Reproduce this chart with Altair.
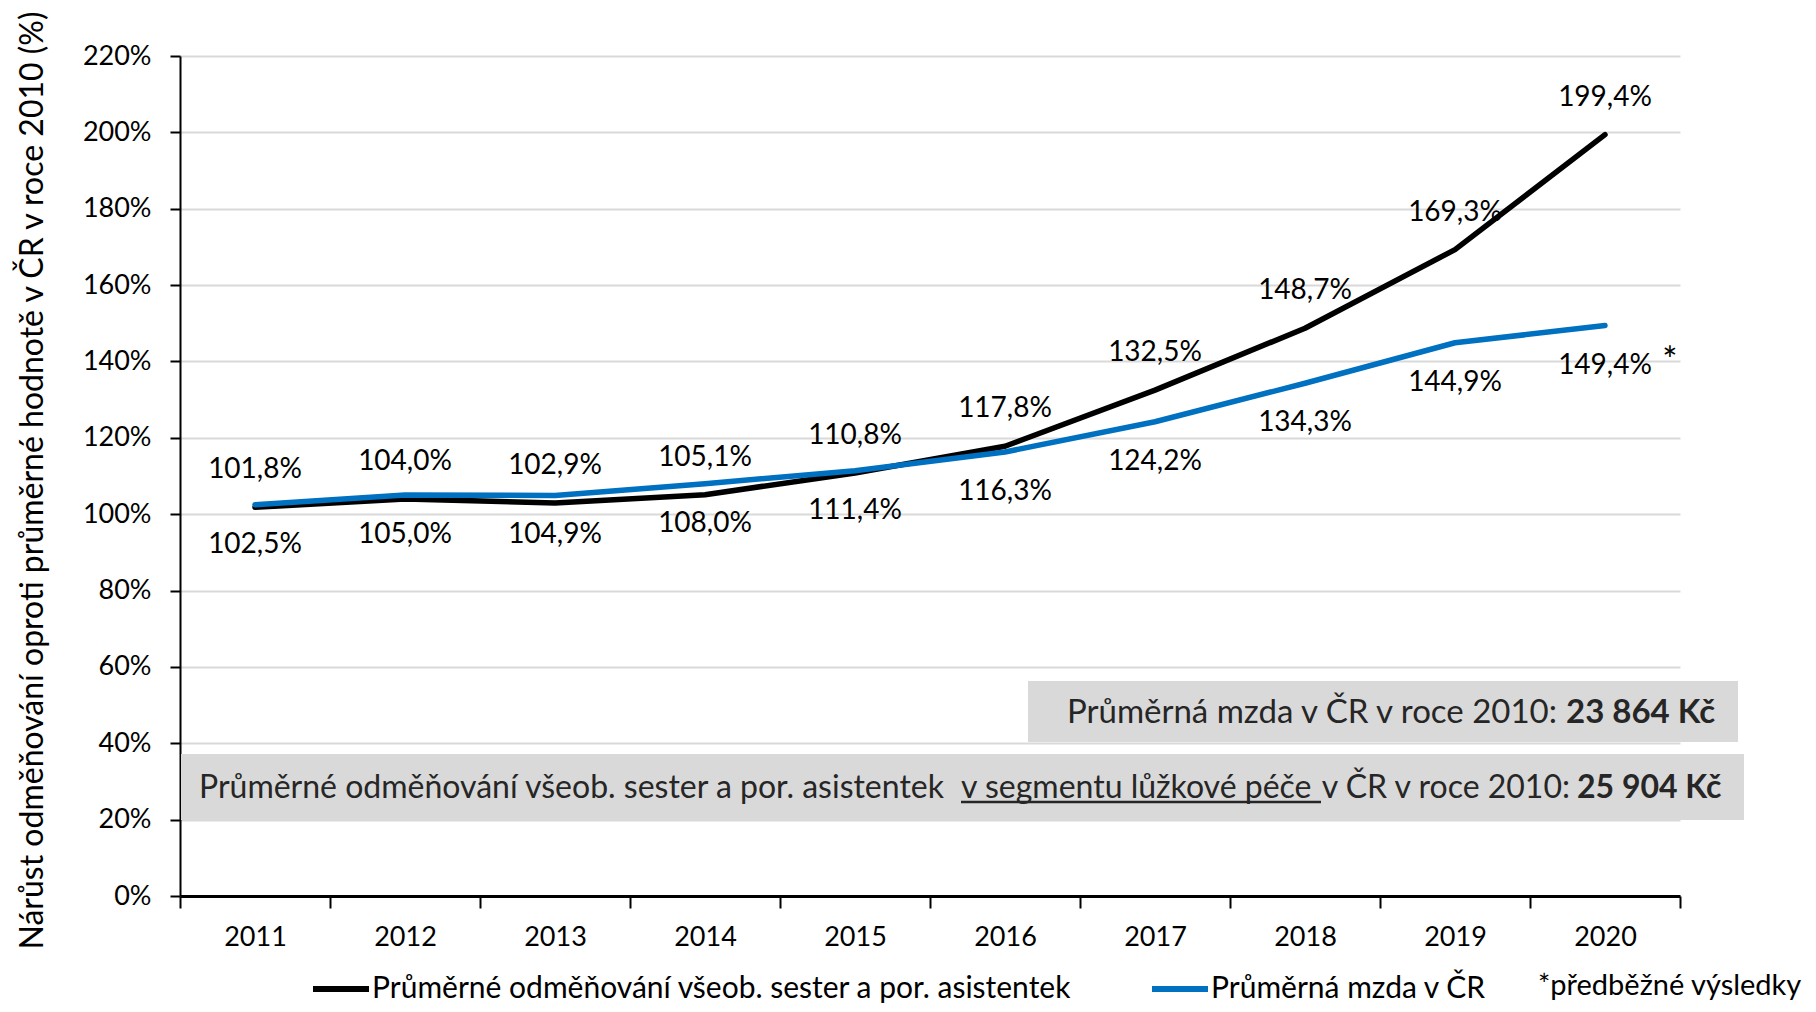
import altair as alt
import pandas as pd

years = ["2011", "2012", "2013", "2014", "2015", "2016", "2017", "2018", "2019", "2020"]
nurses = [101.8, 104.0, 102.9, 105.1, 110.8, 117.8, 132.5, 148.7, 169.3, 199.4]
wage = [102.5, 105.0, 104.9, 108.0, 111.4, 116.3, 124.2, 134.3, 144.9, 149.4]
series_names = ["Průměrné odměňování všeob. sester a por. asistentek", "Průměrná mzda v ČR"]
series_colors = ["#000000", "#0070C0"]
y_ticks = [0, 20, 40, 60, 80, 100, 120, 140, 160, 180, 200, 220]

y_title = "Nárůst odměňování oproti průměrné hodnotě v ČR v roce 2010 (%)"
box1_text = "Průměrná mzda v ČR v roce 2010:"
box1_bold = "23 864 Kč"
box2_text_a = "Průměrné odměňování všeob. sester a por. asistentek"
box2_text_u = "v segmentu lůžkové péče"
box2_text_b = "v ČR v roce 2010:"
box2_bold = "25 904 Kč"
note_text = "*předběžné výsledky"


def fmt(v):
    return f"{v:.1f}".replace(".", ",") + "%"


rows = []
for i, yr in enumerate(years):
    rows.append(dict(year=yr, value=nurses[i], series=series_names[0], label=fmt(nurses[i])))
    rows.append(dict(year=yr, value=wage[i], series=series_names[1], label=fmt(wage[i])))
df = pd.DataFrame(rows)

FONT = "Lato"
LEG_FS = 30

x_enc = alt.X(
    "year:O",
    sort=years,
    scale=alt.Scale(type="band", paddingInner=0, paddingOuter=0),
    bandPosition=0.5,
    axis=alt.Axis(
        title=None, tickBand="extent", labelAngle=0, labelFont=FONT, labelFontSize=27,
        labelColor="black", labelPadding=16, tickSize=12, tickWidth=2, tickColor="black",
        domainColor="black", domainWidth=3, grid=False,
    ),
)
y_enc = alt.Y(
    "value:Q",
    scale=alt.Scale(domain=[0, 220], nice=False),
    axis=alt.Axis(
        values=y_ticks, labelExpr="datum.value + '%'", title=y_title,
        labelFont=FONT, labelFontSize=27, labelColor="black", labelPadding=19,
        tickSize=10, tickWidth=2, tickColor="black", domainColor="black", domainWidth=2,
        grid=True, gridColor="#D9D9D9", gridWidth=2,
        titleFont=FONT, titleFontSize=32, titleFontWeight="normal", titleColor="black",
        titleX=-148, titleY=424, titleBaseline="middle", titleAlign="center",
    ),
)

base = alt.Chart(df)

lines = base.mark_line(strokeWidth=5.5, strokeCap="round", strokeJoin="round").encode(
    x=x_enc,
    y=y_enc,
    color=alt.Color(
        "series:N",
        scale=alt.Scale(domain=series_names, range=series_colors),
        sort=series_names,
        legend=alt.Legend(
            title=None, orient="none", legendX=130, legendY=902, direction="horizontal",
            symbolType="stroke", symbolStrokeWidth=6, symbolSize=3136,
            labelFont=FONT, labelFontSize=LEG_FS, labelColor="black", labelOffset=0,
            columnPadding=68, labelLimit=0, padding=0,
        ),
    ),
    detail="series:N",
)

labels_black = base.transform_filter(alt.datum.series == series_names[0]).mark_text(
    font=FONT, fontSize=28, color="black", dy=-37, baseline="middle"
).encode(x=alt.X("year:O", sort=years, bandPosition=0.5), y="value:Q", text="label:N")

labels_blue = base.transform_filter(alt.datum.series == series_names[1]).mark_text(
    font=FONT, fontSize=28, color="black", dy=40, baseline="middle"
).encode(x=alt.X("year:O", sort=years, bandPosition=0.5), y="value:Q", text="label:N")

one = alt.Chart(pd.DataFrame({"k": [0]}))

B1_FS = 33
B2_FS = 32
box1 = one.mark_rect(color="#D9D9D9").encode(
    x=alt.value(848), x2=alt.value(1558), y=alt.value(625), y2=alt.value(686)
)
box2 = one.mark_rect(color="#D9D9D9").encode(
    x=alt.value(1), x2=alt.value(1564), y=alt.value(698), y2=alt.value(764)
)
TXT = "#262626"
b1t = one.mark_text(text=box1_text, font=FONT, fontSize=B1_FS, color=TXT, align="right", baseline="middle").encode(
    x=alt.value(1377), y=alt.value(657))
b1b = one.mark_text(text=box1_bold, font=FONT, fontSize=B1_FS, fontWeight="bold", color=TXT, align="left", baseline="middle").encode(
    x=alt.value(1386), y=alt.value(657))
b2a = one.mark_text(text=box2_text_a, font=FONT, fontSize=B2_FS, color=TXT, align="left", baseline="middle").encode(
    x=alt.value(19), y=alt.value(732))
b2u = one.mark_text(text=box2_text_u, font=FONT, fontSize=B2_FS, color=TXT, align="left", baseline="middle").encode(
    x=alt.value(781), y=alt.value(732))
b2line = one.mark_rule(color=TXT, strokeWidth=2.5).encode(
    x=alt.value(781), x2=alt.value(1141), y=alt.value(746))
b2b = one.mark_text(text=box2_text_b, font=FONT, fontSize=B2_FS, color=TXT, align="right", baseline="middle").encode(
    x=alt.value(1390), y=alt.value(732))
b2c = one.mark_text(text=box2_bold, font=FONT, fontSize=B2_FS, fontWeight="bold", color=TXT, align="left", baseline="middle").encode(
    x=alt.value(1397), y=alt.value(732))
star = one.mark_text(text="*", font=FONT, fontSize=36, color="black", align="center", baseline="middle").encode(
    x=alt.value(1490), y=alt.value(306))
note = one.mark_text(text=note_text, font=FONT, fontSize=29, color="black", align="left", baseline="middle").encode(
    x=alt.value(1358), y=alt.value(930))

chart = alt.layer(
    lines, labels_black, labels_blue, box1, box2, b1t, b1b, b2a, b2u, b2line, b2b, b2c, star, note
).properties(
    width=1500, height=840,
    padding={"left": 172, "top": 48, "right": 128, "bottom": 108},
    autosize=alt.AutoSizeParams(type="none"),
).configure_view(stroke=None)

chart.save("out.html", embed_options={"renderer": "svg", "actions": False})
